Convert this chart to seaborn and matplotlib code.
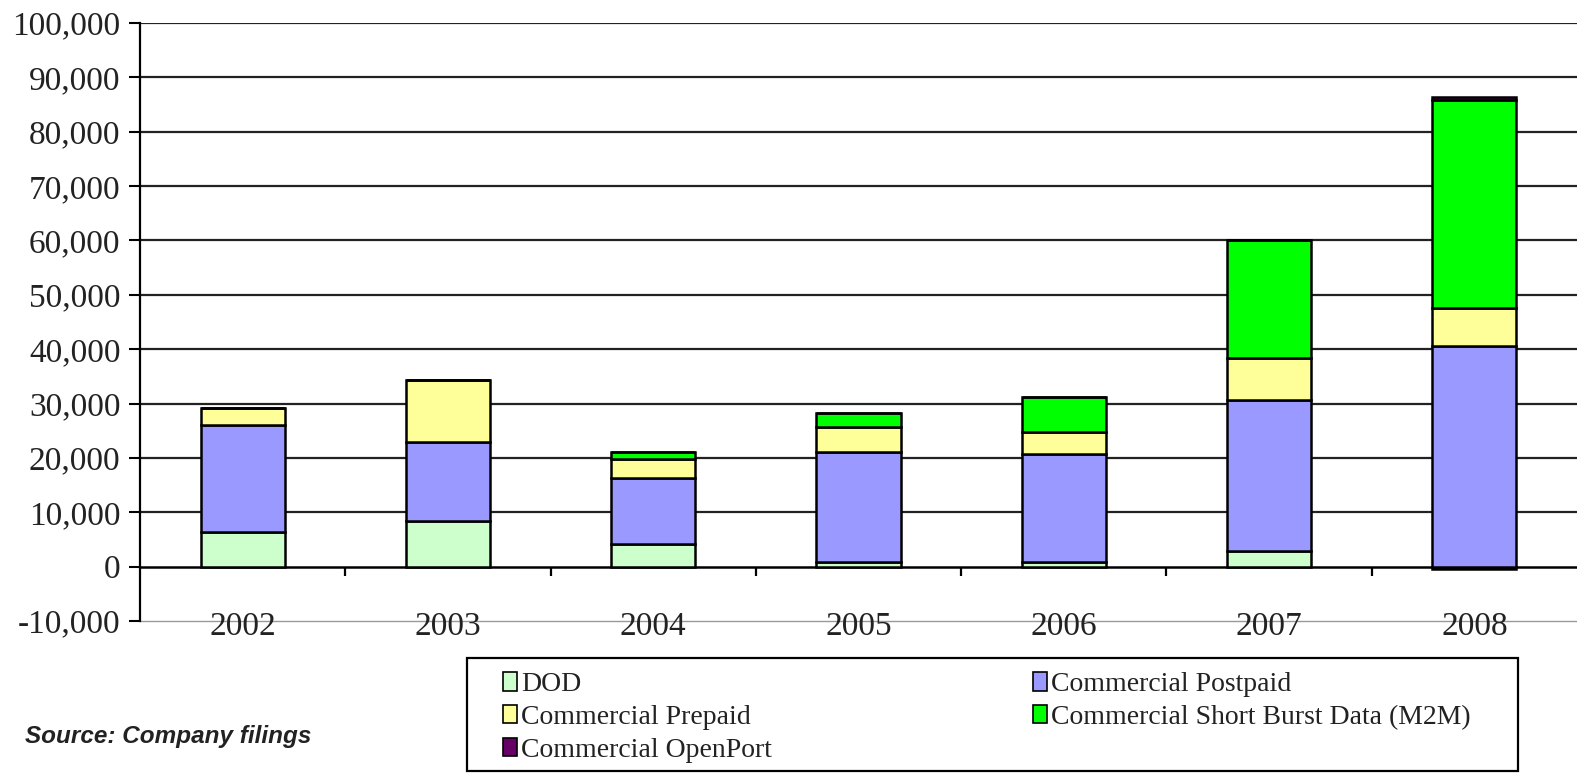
import numpy as np
import pandas as pd
import matplotlib
matplotlib.use("Agg")
import matplotlib.pyplot as plt
import seaborn as sns
from matplotlib.patches import Patch, Rectangle

# Subscribers by segment, per year
years = ["2002", "2003", "2004", "2005", "2006", "2007", "2008"]
dod = [6300, 8400, 4100, 800, 800, 2900, -400]
postpaid = [19700, 14500, 12200, 20200, 19900, 27700, 40500]
prepaid = [3100, 11500, 3500, 4600, 4100, 7800, 7000]
sbd = [0, 0, 1200, 2600, 6400, 21600, 38300]
openport = [0, 0, 0, 0, 0, 0, 600]

series_names = ["DOD", "Commercial Postpaid", "Commercial Prepaid",
                "Commercial Short Burst Data (M2M)", "Commercial OpenPort"]
series_values = [dod, postpaid, prepaid, sbd, openport]
series_colors = ["#CCFFCC", "#9999FF", "#FFFF99", "#00FF00", "#660066"]

y_ticks = list(range(-10000, 100001, 10000))

sns.set_theme(style="white")
plt.rcParams["font.family"] = ["Liberation Serif", "DejaVu Serif"]

W, H = 1577, 778
fig = plt.figure(figsize=(W / 100, H / 100), dpi=100)
ax = fig.add_axes([140 / W, 1 - 621 / H, 1 - 140 / W, (621 - 23) / H])

# Stack positive values upward and negative values downward
pos_base = np.zeros(len(years))
neg_base = np.zeros(len(years))
for name, vals, col in zip(series_names, series_values, series_colors):
    v = np.array(vals, dtype=float)
    bottom = np.where(v >= 0, pos_base, neg_base)
    df = pd.DataFrame({"year": years, "value": v})
    sns.barplot(data=df, x="year", y="value", order=years, ax=ax,
                color=col, width=0.41, bottom=bottom, edgecolor="black",
                linewidth=1.8, saturation=1, zorder=3, errorbar=None)
    pos_base = pos_base + np.where(v > 0, v, 0)
    neg_base = neg_base + np.where(v < 0, v, 0)

ax.set_ylim(-10000, 100000)
ax.set_xlim(-0.5, len(years) - 0.5)
ax.set_yticks(y_ticks)
ax.set_yticklabels([f"{t:,}" for t in y_ticks], fontsize=24, color="#222222")
ax.tick_params(axis="y", direction="out", length=8, width=1.5, color="black",
               left=True, pad=6)

# Horizontal gridlines
for t in y_ticks[2:]:
    ax.axhline(t, color="#222222", linewidth=1.6, zorder=1)
ax.axhline(0, color="black", linewidth=1.8, zorder=2)

# Category separators hanging below the zero line
ax.vlines(np.arange(len(years) - 1) + 0.5, -1800, 0, color="black",
          linewidth=1.6, zorder=2)

ax.set_xticks([])
ax.set_xlabel("")
ax.set_ylabel("")
for i, yr in enumerate(years):
    ax.text(i, -11000, yr, ha="center", va="center", fontsize=24,
            color="#222222", clip_on=False, zorder=0)

for side in ["top", "right"]:
    ax.spines[side].set_visible(False)
ax.spines["left"].set_color("black")
ax.spines["left"].set_linewidth(1.6)
ax.spines["bottom"].set_color("#999999")
ax.spines["bottom"].set_linewidth(1.0)
ax.spines["bottom"].set_zorder(-1)

# Legend in a framed box below the plot
order = [0, 2, 4, 1, 3]
handles = [Patch(facecolor=series_colors[i], edgecolor="black", linewidth=1.2,
                 label=series_names[i]) for i in order]
fig.patches.append(Rectangle((467 / W, 1 - 771 / H), (1518 - 467) / W, 113 / H,
                             transform=fig.transFigure, facecolor="none",
                             edgecolor="black", linewidth=1.6))
leg = fig.legend(handles=handles, ncol=2, loc="upper left",
                 bbox_to_anchor=(503 / W, 1 - 672 / H),
                 fontsize=20, frameon=False,
                 handlelength=0.52, handleheight=0.65, handletextpad=0.12,
                 labelspacing=0.28, borderpad=0, borderaxespad=0,
                 columnspacing=9.4)
for txt in leg.get_texts():
    txt.set_color("#222222")

fig.text(25 / W, 1 - 737 / H, "Source: Company filings", ha="left",
         va="center", fontsize=17.5, fontweight="bold", fontstyle="italic",
         family=["Liberation Sans", "DejaVu Sans"], color="#222222")

fig.savefig("out.png", dpi=100)
